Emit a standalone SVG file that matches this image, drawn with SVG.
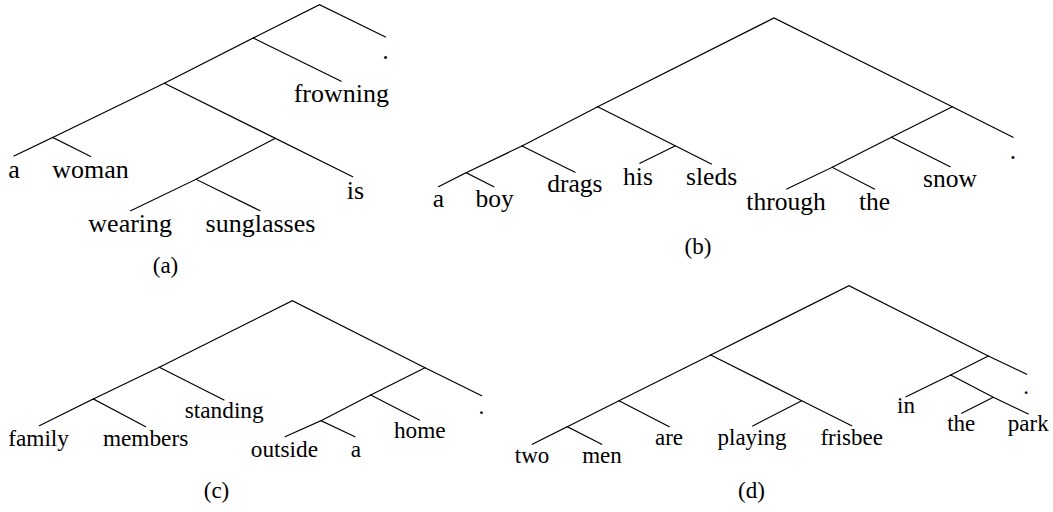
<svg xmlns="http://www.w3.org/2000/svg" width="1053" height="512" viewBox="0 0 1053 512" font-family="'Liberation Serif', 'DejaVu Serif', serif">
  <style>
    .edge { stroke: #000; stroke-width: 1.2; fill: none; stroke-linecap: round; }
    .lbl { font-family: 'Liberation Serif', 'DejaVu Serif', serif; fill: #000; text-anchor: middle; }
    .ta { font-size: 26px; }
    .tb { font-size: 25.5px; }
    .tc { font-size: 23.3px; }
    .td { font-size: 23px; }
    .cap { font-size: 23px; }
  </style>
  <rect width="1053" height="512" fill="#fff"/>

  <!-- Tree (a): a woman wearing sunglasses is frowning . -->
  <g id="tree-a">
    <g id="a-edges" class="edge">
      <polyline points="253.3,38 319.5,4.7 385.5,37"/>
      <polyline points="164.3,83.3 253.3,38 341.2,81.2"/>
      <line x1="164.3" y1="83.3" x2="52.7" y2="137.5"/>
      <polyline points="14,156 52.7,137.5 90.7,156.5"/>
      <line x1="164.3" y1="83.3" x2="352.7" y2="176.7"/>
      <line x1="275" y1="138.5" x2="196" y2="179.3"/>
      <polyline points="130.7,210.7 196,179.3 260,210.7"/>
    </g>
    <g id="a-dot"><text class="lbl ta" x="385.5" y="59">.</text></g>
    <g id="a-frowning"><text class="lbl ta" x="341.3" y="101.7">frowning</text></g>
    <g id="a-is"><text class="lbl ta" x="355.4" y="198.7">is</text></g>
    <g id="a-a"><text class="lbl ta" x="14" y="177.7">a</text></g>
    <g id="a-woman"><text class="lbl ta" x="90.5" y="177.7">woman</text></g>
    <g id="a-wearing"><text class="lbl ta" x="130.2" y="231.7">wearing</text></g>
    <g id="a-sunglasses"><text class="lbl ta" x="260.5" y="231.7">sunglasses</text></g>
    <text class="lbl cap" x="165.5" y="273.3">(a)</text>
  </g>

  <!-- Tree (b): a boy drags his sleds through the snow . -->
  <g id="tree-b">
    <g id="b-edges" class="edge">
      <polyline points="597.7,106.7 774,18 952.3,106.7 1013,137.3"/>
      <line x1="952.3" y1="106.7" x2="891.4" y2="137.3"/>
      <line x1="891.4" y1="137.3" x2="950.2" y2="166.7"/>
      <line x1="891.4" y1="137.3" x2="832.2" y2="167.3"/>
      <polyline points="786.7,189 832.2,167.3 874.4,189"/>
      <line x1="597.7" y1="106.7" x2="522" y2="146"/>
      <line x1="522" y1="146" x2="466.1" y2="172.7"/>
      <polyline points="438.4,186.7 466.1,172.7 493.8,186.7"/>
      <line x1="522" y1="146" x2="575" y2="172.3"/>
      <line x1="597.7" y1="106.7" x2="711.4" y2="164"/>
      <line x1="675" y1="146" x2="639.9" y2="163.3"/>
    </g>
    <g id="b-dot"><text class="lbl tb" x="1013" y="158.5">.</text></g>
    <g id="b-a"><text class="lbl tb" x="438.4" y="206.7">a</text></g>
    <g id="b-boy"><text class="lbl tb" x="494.5" y="206.7">boy</text></g>
    <g id="b-drags"><text class="lbl tb" x="574.8" y="191.7">drags</text></g>
    <g id="b-his"><text class="lbl tb" x="638" y="185">his</text></g>
    <g id="b-sleds"><text class="lbl tb" x="711.6" y="185">sleds</text></g>
    <g id="b-through"><text class="lbl tb" x="786" y="210">through</text></g>
    <g id="b-the"><text class="lbl tb" x="874.6" y="210">the</text></g>
    <g id="b-snow"><text class="lbl tb" x="949.9" y="186.7">snow</text></g>
    <text class="lbl cap" x="698" y="253.5">(b)</text>
  </g>

  <!-- Tree (c): family members standing outside a home . -->
  <g id="tree-c">
    <g id="c-edges" class="edge">
      <polyline points="159.3,367.3 292.3,300.7 425,367.7 481.7,395.7"/>
      <line x1="159.3" y1="367.3" x2="93.3" y2="399"/>
      <polyline points="39.3,425.7 93.3,399 145.7,426.7"/>
      <line x1="159.3" y1="367.3" x2="224" y2="400"/>
      <line x1="425" y1="367.7" x2="370.7" y2="395"/>
      <line x1="370.7" y1="395" x2="419.3" y2="420"/>
      <line x1="370.7" y1="395" x2="321" y2="420.7"/>
      <polyline points="285,436.7 321,420.7 355,436.7"/>
    </g>
    <g id="c-dot"><text class="lbl tc" x="481.5" y="414">.</text></g>
    <g id="c-family"><text class="lbl tc" x="38.6" y="445.7">family</text></g>
    <g id="c-members"><text class="lbl tc" x="145.6" y="445.7">members</text></g>
    <g id="c-standing"><text class="lbl tc" x="224.2" y="417.7">standing</text></g>
    <g id="c-outside"><text class="lbl tc" x="284.4" y="456.7">outside</text></g>
    <g id="c-a"><text class="lbl tc" x="356" y="456.7">a</text></g>
    <g id="c-home"><text class="lbl tc" x="419.8" y="437.7">home</text></g>
    <text class="lbl cap" x="216.5" y="498">(c)</text>
  </g>

  <!-- Tree (d): two men are playing frisbee in the park . -->
  <g id="tree-d">
    <g id="d-edges" class="edge">
      <polyline points="710.7,355 849,285.7 988.3,356 1026.7,374.3"/>
      <line x1="988.3" y1="356" x2="950.7" y2="375"/>
      <line x1="950.7" y1="375" x2="906" y2="396.7"/>
      <polyline points="950.7,375 993.3,397.3 1028.3,414"/>
      <line x1="993.3" y1="397.3" x2="961.7" y2="413.3"/>
      <polyline points="710.7,355 801.7,400.7 851.7,425.7"/>
      <line x1="801.7" y1="400.7" x2="752.7" y2="426"/>
      <line x1="710.7" y1="355" x2="619" y2="400.7"/>
      <line x1="619" y1="400.7" x2="669.3" y2="426.7"/>
      <line x1="619" y1="400.7" x2="567.3" y2="426.7"/>
      <polyline points="532.3,444.3 567.3,426.7 601.7,444.3"/>
    </g>
    <g id="d-dot"><text class="lbl td" x="1026" y="393.5">.</text></g>
    <g id="d-two"><text class="lbl td" x="532" y="462.7">two</text></g>
    <g id="d-men"><text class="lbl td" x="602" y="462.7">men</text></g>
    <g id="d-are"><text class="lbl td" x="669" y="445">are</text></g>
    <g id="d-playing"><text class="lbl td" x="752" y="445">playing</text></g>
    <g id="d-frisbee"><text class="lbl td" x="851.7" y="445">frisbee</text></g>
    <g id="d-in"><text class="lbl td" x="906" y="413.3">in</text></g>
    <g id="d-the"><text class="lbl td" x="961.2" y="430.7">the</text></g>
    <g id="d-park"><text class="lbl td" x="1028.3" y="430.7">park</text></g>
    <text class="lbl cap" x="751.5" y="498">(d)</text>
  </g>
</svg>
